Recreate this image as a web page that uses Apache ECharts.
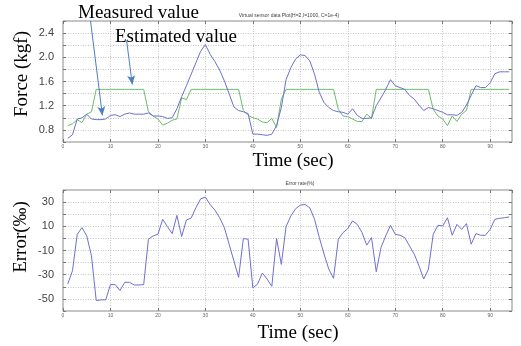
<!DOCTYPE html>
<html>
<head>
<meta charset="utf-8">
<script src="https://cdn.jsdelivr.net/npm/echarts@6/dist/echarts.min.js"></script>
<style>html,body{margin:0;padding:0;background:#fff;}#c{width:521px;height:346px;}</style>
</head>
<body>
<div id="c"></div>
<script>
const seconds = [1,2,3,4,5,6,7,8,9,10,11,12,13,14,15,16,17,18,19,20,21,22,23,24,25,26,27,28,29,30,31,32,33,34,35,36,37,38,39,40,41,42,43,44,45,46,47,48,49,50,51,52,53,54,55,56,57,58,59,60,61,62,63,64,65,66,67,68,69,70,71,72,73,74,75,76,77,78,79,80,81,82,83,84,85,86,87,88,89,90,91,92,93,94];
const measured = [0.66,0.72,0.98,1.00,1.06,0.98,0.97,0.97,0.98,1.04,1.05,1.02,1.06,1.08,1.06,1.06,1.06,1.08,1.03,1.03,1.02,0.99,1.00,1.15,1.35,1.53,1.72,1.91,2.10,2.21,2.05,1.93,1.79,1.61,1.40,1.18,1.12,1.10,1.07,0.73,0.73,0.72,0.71,0.73,0.87,1.17,1.63,1.83,1.97,2.04,2.03,1.94,1.72,1.42,1.25,1.17,1.12,1.10,1.09,1.06,1.15,1.04,0.99,0.99,1.00,1.20,1.33,1.47,1.63,1.53,1.50,1.47,1.37,1.31,1.21,1.12,1.17,1.15,1.12,1.09,1.05,1.05,1.04,1.09,1.21,1.37,1.53,1.50,1.50,1.58,1.73,1.76,1.76,1.76];
const estimated = [0.87,0.90,0.97,0.92,1.06,1.10,1.47,1.47,1.47,1.47,1.47,1.47,1.47,1.47,1.47,1.47,1.47,1.10,1.03,0.98,0.88,0.91,0.96,0.98,1.33,1.30,1.47,1.47,1.47,1.47,1.47,1.47,1.47,1.47,1.47,1.47,1.47,1.12,1.04,1.00,0.98,0.93,0.92,0.99,0.84,1.31,1.47,1.47,1.47,1.47,1.47,1.47,1.47,1.47,1.47,1.47,1.47,1.14,1.03,1.02,0.98,0.94,0.94,1.06,0.99,1.47,1.47,1.47,1.47,1.47,1.47,1.47,1.47,1.47,1.47,1.47,1.47,1.14,1.03,0.98,0.87,1.03,0.94,1.06,1.12,1.47,1.47,1.47,1.47,1.47,1.47,1.47,1.47,1.47];
const errorRate = [-37.7,-26.7,3.4,8.9,2.1,-14.4,-51.4,-50.8,-50.8,-38.2,-38.2,-43.1,-36.3,-36.3,-38.5,-38.5,-38.2,-0.7,2.1,3.4,15.8,9.7,4.0,19.0,1.5,15.2,16.8,25.3,32.7,34.1,28.0,23.4,17.1,8.9,-4.8,-18.5,-32.2,-0.1,-0.7,-41.0,-37.7,-28.6,-33.6,-39.6,-0.1,-21.5,9.7,18.5,24.5,27.5,28.0,25.3,15.8,0.7,-13.0,-25.3,-33.0,-0.7,4.8,8.1,14.4,11.6,4.8,-5.6,0.7,-27.5,-7.5,2.1,10.8,3.4,2.6,0.7,-6.2,-13.0,-22.6,-33.6,-25.3,3.4,10.8,10.3,17.1,2.6,11.6,7.5,12.2,-4.8,4.0,2.6,2.6,7.5,15.8,16.6,17.1,17.7];
const forceTicks = ['0.8','1.2','1.6','2.0','2.4'];
const errorTicks = ['30','10','-10','-30','-50'];
const measuredArrow = [[5.8, 2.6], [8.3, 1.04]];
const estimatedArrow = [[13.4, 2.28], [14.6, 1.55]];
const plotTitle = 'Virtual sensor data Plot(H=2,I=1000, C=1e-4)';
const errorTitle = 'Error rate(%)';

const pairs = (ys) => seconds.map((t, i) => [t, ys[i]]);

const chart = echarts.init(document.getElementById('c'), null, {renderer: 'canvas'});
const tickLabel = {fontSize: 5, color: '#666', margin: 2, fontFamily: 'Liberation Sans', showMaxLabel: false};
const splitStyle = {show: true, lineStyle: {type: [1, 1.5], color: '#c4c4c4', width: 1}};
const tickIn = {show: true, inside: true, length: 3, lineStyle: {color: '#777'}};

function xMain(g) {
  return {type: 'value', gridIndex: g, min: 0, max: 94.6, interval: 10,
    axisLine: {show: false, onZero: false}, axisTick: tickIn,
    axisLabel: tickLabel, splitLine: splitStyle};
}
function xTop(g) {
  return {type: 'value', gridIndex: g, position: 'top', min: 0, max: 94.6, interval: 10,
    axisLine: {show: false, onZero: false}, axisTick: tickIn, axisLabel: {show: false}, splitLine: {show: false}};
}
const yLabelStyle = {fontSize: 11, color: '#444', margin: 9, fontFamily: 'Liberation Sans'};

const option = {
  animation: false,
  backgroundColor: '#fff',
  grid: [
    {left: 63, top: 21, width: 449, height: 121, show: true, borderColor: '#8a8a8a', borderWidth: 1, backgroundColor: '#fff'},
    {left: 63, top: 190, width: 449, height: 121, show: true, borderColor: '#8a8a8a', borderWidth: 1, backgroundColor: '#fff'}
  ],
  xAxis: [xMain(0), xTop(0), xMain(1), xTop(1)],
  yAxis: [
    {type: 'value', gridIndex: 0, min: 0.6, max: 2.6, interval: 0.2,
      axisLine: {show: false, onZero: false}, axisTick: tickIn, splitLine: splitStyle,
      axisLabel: Object.assign({}, yLabelStyle, {formatter: v => {const s = v.toFixed(1); return forceTicks.includes(s) ? s : '';}})},
    {type: 'value', gridIndex: 0, position: 'right', min: 0.6, max: 2.6, interval: 0.2,
      axisLine: {show: false, onZero: false}, axisTick: tickIn, axisLabel: {show: false}, splitLine: {show: false}},
    {type: 'value', gridIndex: 1, min: -60, max: 40, interval: 10,
      axisLine: {show: false, onZero: false}, axisTick: tickIn, splitLine: splitStyle,
      axisLabel: Object.assign({}, yLabelStyle, {formatter: v => {const s = String(Math.round(v)); return errorTicks.includes(s) ? s : '';}})},
    {type: 'value', gridIndex: 1, position: 'right', min: -60, max: 40, interval: 10,
      axisLine: {show: false, onZero: false}, axisTick: tickIn, axisLabel: {show: false}, splitLine: {show: false}}
  ],
  series: [
    {name: 'Estimated value', type: 'line', xAxisIndex: 0, yAxisIndex: 0, data: pairs(estimated),
      showSymbol: false, lineStyle: {color: '#6cbc6c', width: 1}, itemStyle: {color: '#6cbc6c'}, z: 2},
    {name: 'Measured value', type: 'line', xAxisIndex: 0, yAxisIndex: 0, data: pairs(measured),
      showSymbol: false, lineStyle: {color: '#6f6fd0', width: 1}, itemStyle: {color: '#6f6fd0'}, z: 3,
      markLine: {silent: true, symbol: ['none', 'arrow'], symbolSize: [6, 9], label: {show: false},
        lineStyle: {color: '#4a7fc4', width: 1, type: 'solid'},
        data: [
          [{coord: measuredArrow[0]}, {coord: measuredArrow[1]}],
          [{coord: estimatedArrow[0]}, {coord: estimatedArrow[1]}]
        ]}},
    {name: 'Error rate', type: 'line', xAxisIndex: 2, yAxisIndex: 2, data: pairs(errorRate),
      showSymbol: false, lineStyle: {color: '#6f6fd0', width: 1}, itemStyle: {color: '#6f6fd0'}}
  ],
  graphic: [
    {type: 'text', x: 289, y: 15.5, style: {text: plotTitle, font: '5px "Liberation Sans"', fill: '#444', align: 'center', verticalAlign: 'middle'}},
    {type: 'text', x: 300, y: 184, style: {text: errorTitle, font: '5px "Liberation Sans"', fill: '#444', align: 'center', verticalAlign: 'middle'}},
    {type: 'text', x: 78, y: 13, z: 10, style: {text: 'Measured value', font: '19px "Liberation Serif"', fill: '#000', align: 'left', verticalAlign: 'middle'}},
    {type: 'text', x: 115, y: 37, z: 10, style: {text: 'Estimated value', font: '19px "Liberation Serif"', fill: '#000', align: 'left', verticalAlign: 'middle'}},
    {type: 'text', x: 293, y: 161, style: {text: 'Time (sec)', font: '19px "Liberation Serif"', fill: '#000', align: 'center', verticalAlign: 'middle'}},
    {type: 'text', x: 298, y: 333, style: {text: 'Time (sec)', font: '19px "Liberation Serif"', fill: '#000', align: 'center', verticalAlign: 'middle'}},
    {type: 'text', x: 22, y: 74, rotation: Math.PI / 2, style: {text: 'Force (kgf)', font: '19px "Liberation Serif"', fill: '#000', align: 'center', verticalAlign: 'middle'}},
    {type: 'text', x: 21, y: 237, rotation: Math.PI / 2, style: {text: 'Error(‰)', font: '19px "Liberation Serif"', fill: '#000', align: 'center', verticalAlign: 'middle'}}
  ]
};
chart.setOption(option);
</script>
</body>
</html>
